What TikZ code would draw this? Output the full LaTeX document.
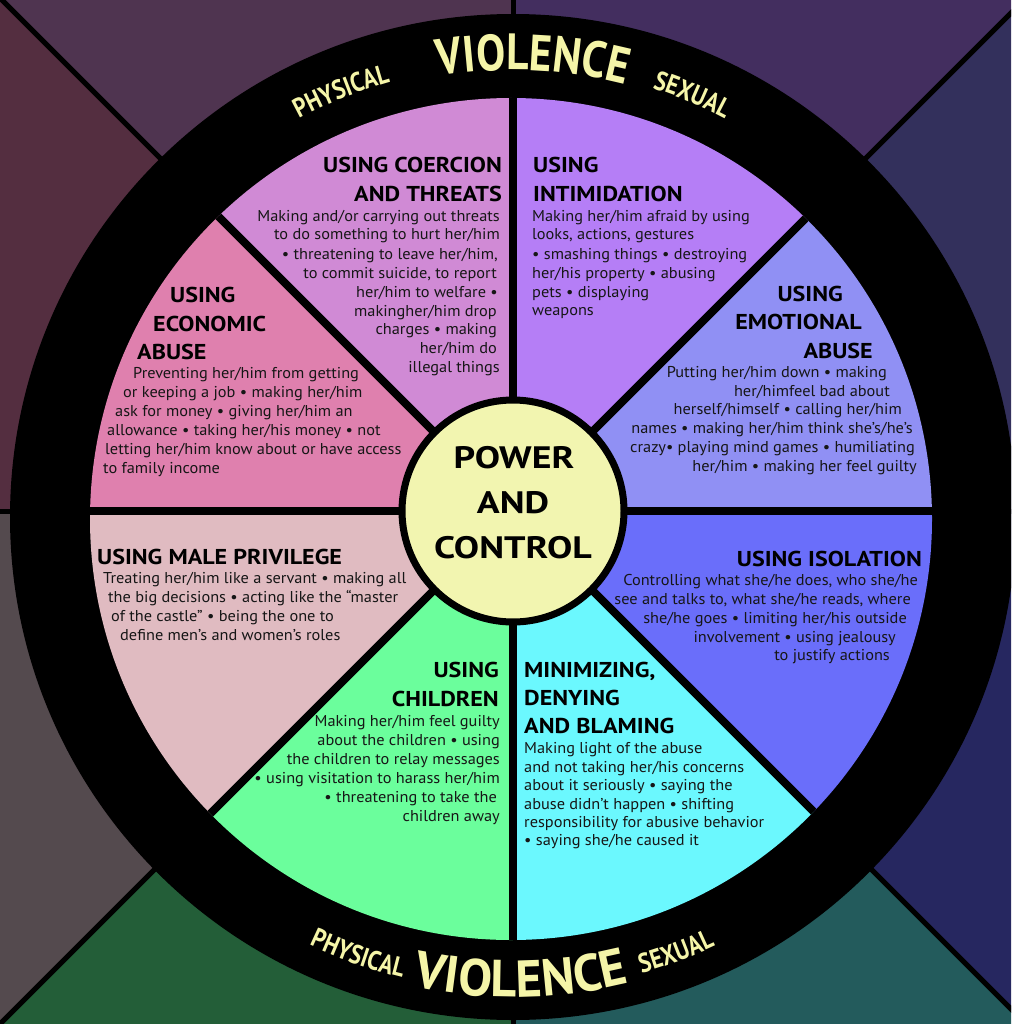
\documentclass[tikz,border=0pt]{standalone}
\usepackage{fontspec}
\setmainfont{PT Sans}
\newfontfamily\ringfont{PT Sans}[FakeStretch=0.85]
\newfontfamily\ringwide{PT Sans}[FakeStretch=0.97]
\newfontfamily\ttlfont{PT Sans}[FakeStretch=1.12]
\newfontfamily\bodyfont{PT Sans}[FakeStretch=1.04]
\newfontfamily\hubfont{PT Sans}[FakeStretch=1.22]
\usetikzlibrary{decorations.text,calc}
\definecolor{bgEmo}{HTML}{33305C}
\definecolor{bgInt}{HTML}{432E5F}
\definecolor{bgCoe}{HTML}{4F3450}
\definecolor{bgEco}{HTML}{542E40}
\definecolor{bgMal}{HTML}{544A4E}
\definecolor{bgChi}{HTML}{235E38}
\definecolor{bgMin}{HTML}{235B5C}
\definecolor{bgIso}{HTML}{262760}
\definecolor{wEmo}{HTML}{9090F4}
\definecolor{wInt}{HTML}{B57EF6}
\definecolor{wCoe}{HTML}{D08AD5}
\definecolor{wEco}{HTML}{DF80AE}
\definecolor{wMal}{HTML}{E0BBC1}
\definecolor{wChi}{HTML}{6BFE9C}
\definecolor{wMin}{HTML}{6BF8FE}
\definecolor{wIso}{HTML}{6A6EFA}
\definecolor{hubcol}{HTML}{F2F5B0}
\definecolor{ringtext}{HTML}{F5F5A8}
\definecolor{bodycol}{HTML}{161616}
\newcommand\bodyfnt{\bodyfont\fontsize{15.7}{19}\selectfont}
\newcommand\ttlfnt{\ttlfont\bfseries\fontsize{21.5}{28}\selectfont}
\newcommand\hubfnt{\hubfont\bfseries\fontsize{31}{45}\selectfont}
\newcommand\bigring{\ringfont\bfseries\fontsize{51}{51}\selectfont}
\newcommand\bigringb{\ringwide\bfseries\fontsize{52}{52}\selectfont}
\newcommand\smallring{\ringfont\bfseries\fontsize{27}{27}\selectfont}
\begin{document}
\begin{tikzpicture}[x=1pt,y=-1pt,
  body/.style={font=\bodyfnt, text=bodycol, inner sep=0pt},
  ttl/.style={font=\ttlfnt, text=black, inner sep=0pt},
  hubtxt/.style={font=\hubfnt, text=black, inner sep=0pt, anchor=base},
  bw/.style={anchor=base west},
  be/.style={anchor=base east}]
\useasboundingbox (0,0) rectangle (1011,1024);
\clip (0,0) rectangle (1011,1024);
\coordinate (D) at (513,511);
\coordinate (W) at (513,517);
\coordinate (Wi) at (511,519);
% background sectors
\foreach \a/\b/\c in {0/45/bgEmo,45/90/bgInt,90/135/bgCoe,135/180/bgEco,180/225/bgMal,225/270/bgChi,270/315/bgMin,315/360/bgIso}
  \fill[\c] (D) -- ($(D)+(\a:1600pt)$) -- ($(D)+(\b:1600pt)$) -- cycle;
\foreach \a in {0,45,...,315}
  \draw[line width=5pt] (D) -- ($(D)+(\a:1600pt)$);
% wheel
\fill[black] (W) circle[radius=503pt];
\begin{scope}
  \clip (Wi) circle[radius=421pt];
  \foreach \a/\b/\c in {0/45/wEmo,45/90/wInt,90/135/wCoe,135/180/wEco,180/225/wMal,225/270/wChi,270/315/wMin,315/360/wIso}
    \fill[\c] (D) -- ($(D)+(\a:700pt)$) -- ($(D)+(\b:700pt)$) -- cycle;
  \foreach \a in {0,45,...,315}
    \draw[line width=8pt] (D) -- ($(D)+(\a:700pt)$);
\end{scope}
% hub
\node[circle, minimum size=222pt, fill=hubcol, draw=black, line width=7pt, inner sep=0pt] (hub) at (D) {};
\node[hubtxt] (h1) at (514,468) {POWER};
\node[hubtxt] (h2) at (513,513) {AND};
\node[hubtxt] (h3) at (513,558) {CONTROL};
% ring texts
\path[decorate, decoration={text along path, text align=center, text color=ringtext, text={|\bigring|VIOLENCE}}]
  ($(W)+(127.5:447pt)$) arc[start angle=127.5, end angle=47.5, radius=447pt];
\path[decorate, decoration={text along path, text align=center, text color=ringtext, text={|\smallring|PHYSICAL}}]
  ($(W)+(132:452pt)$) arc[start angle=132, end angle=92, radius=452pt];
\path[decorate, decoration={text along path, text align=center, text color=ringtext, text={|\smallring|SEXUAL}}]
  ($(W)+(87:451pt)$) arc[start angle=87, end angle=47, radius=451pt];
\path[decorate, decoration={text along path, text align=center, text color=ringtext, text={|\bigringb|VIOLENCE}}]
  ($(W)+(231:480pt)$) arc[start angle=231, end angle=311, radius=480pt];
\path[decorate, decoration={text along path, text align=center, text color=ringtext, text={|\smallring|PHYSICAL}}]
  ($(W)+(230.5:474pt)$) arc[start angle=230.5, end angle=270.5, radius=474pt];
\path[decorate, decoration={text along path, text align=center, text color=ringtext, text={|\smallring|SEXUAL}}]
  ($(W)+(270.5:474pt)$) arc[start angle=270.5, end angle=310.5, radius=474pt];
% coercion
\node[ttl,be] (ct1) at (502,173) {USING COERCION};
\node[ttl,be] (ct2) at (502,202) {AND THREATS};
\node[body,be] (cb1) at (500,222) {Making and/or carrying out threats};
\node[body,be] (cb2) at (500,240) {to do something to hurt her/him};
\node[body,be] (cb3) at (498,259) {• threatening to leave her/him,};
\node[body,be] (cb4) at (497,278) {to commit suicide, to report};
\node[body,be] (cb5) at (498,297) {her/him to welfare •};
\node[body,be] (cb6) at (497,316) {makingher/him drop};
\node[body,be] (cb7) at (497,334) {charges • making};
\node[body,be] (cb8) at (497,353) {her/him do};
\node[body,be] (cb9) at (500,372) {illegal things};
% intimidation
\node[ttl,bw] (it1) at (533,173) {USING};
\node[ttl,bw] (it2) at (533,202) {INTIMIDATION};
\node[body,bw] (ib1) at (532,222) {Making her/him afraid by using};
\node[body,bw] (ib2) at (532,240) {looks, actions, gestures};
\node[body,bw] (ib3) at (532,259) {• smashing things • destroying};
\node[body,bw] (ib4) at (532,278) {her/his property • abusing};
\node[body,bw] (ib5) at (532,297) {pets • displaying};
\node[body,bw] (ib6) at (532,315) {weapons};
% economic
\node[ttl,bw] (et1) at (170,302) {USING};
\node[ttl,bw] (et2) at (153,331) {ECONOMIC};
\node[ttl,bw] (et3) at (137,359) {ABUSE};
\node[body,bw] (eb1) at (133,378) {Preventing her/him from getting};
\node[body,bw] (eb2) at (123,397) {or keeping a job • making her/him};
\node[body,bw] (eb3) at (115,416) {ask for money • giving her/him an};
\node[body,bw] (eb4) at (107,435) {allowance • taking her/his money • not};
\node[body,bw] (eb5) at (105,454) {letting her/him know about or have access};
\node[body,bw] (eb6) at (103,473) {to family income};
% emotional
\node[ttl,be] (mt1) at (843,301) {USING};
\node[ttl,be] (mt2) at (862,329) {EMOTIONAL};
\node[ttl,be] (mt3) at (873,358) {ABUSE};
\node[body,be] (mb1) at (887,377) {Putting her/him down • making};
\node[body,be] (mb2) at (890,396) {her/himfeel bad about};
\node[body,be] (mb3) at (902,414) {herself/himself • calling her/him};
\node[body,be] (mb4) at (913,433) {names • making her/him think she’s/he’s};
\node[body,be] (mb5) at (915,452) {crazy• playing mind games • humiliating};
\node[body,be] (mb6) at (917,471) {her/him • making her feel guilty};
% male privilege
\node[ttl,bw] (pt1) at (97,564) {USING MALE PRIVILEGE};
\node[body,bw] (pb1) at (103,583) {Treating her/him like a servant • making all};
\node[body,bw] (pb2) at (108,602) {the big decisions • acting like the “master};
\node[body,bw] (pb3) at (111,621) {of the castle” • being the one to};
\node[body,bw] (pb4) at (120,640) {define men’s and women’s roles};
% isolation
\node[ttl,be] (st1) at (922,566) {USING ISOLATION};
\node[body,be] (sb1) at (918,585) {Controlling what she/he does, who she/he};
\node[body,be] (sb2) at (911,604) {see and talks to, what she/he reads, where};
\node[body,be] (sb3) at (907,623) {she/he goes • limiting her/his outside};
\node[body,be] (sb4) at (896,642) {involvement • using jealousy};
\node[body,be] (sb5) at (890,660) {to justify actions};
% children
\node[ttl,be] (ht1) at (499,677) {USING};
\node[ttl,be] (ht2) at (499,706) {CHILDREN};
\node[body,be] (hb1) at (500,726) {Making her/him feel guilty};
\node[body,be] (hb2) at (500,745) {about the children • using};
\node[body,be] (hb3) at (500,764) {the children to relay messages};
\node[body,be] (hb4) at (500,783) {• using visitation to harass her/him};
\node[body,be] (hb5) at (497,802) {• threatening to take the};
\node[body,be] (hb6) at (500,821) {children away};
% minimizing
\node[ttl,bw] (nt1) at (524,677) {MINIMIZING,};
\node[ttl,bw] (nt2) at (524,705) {DENYING};
\node[ttl,bw] (nt3) at (524,733) {AND BLAMING};
\node[body,bw] (nb1) at (524,753) {Making light of the abuse};
\node[body,bw] (nb2) at (524,772) {and not taking her/his concerns};
\node[body,bw] (nb3) at (524,790) {about it seriously • saying the};
\node[body,bw] (nb4) at (524,809) {abuse didn’t happen • shifting};
\node[body,bw] (nb5) at (524,827) {responsibility for abusive behavior};
\node[body,bw] (nb6) at (524,845) {• saying she/he caused it};
\end{tikzpicture}
\end{document}
